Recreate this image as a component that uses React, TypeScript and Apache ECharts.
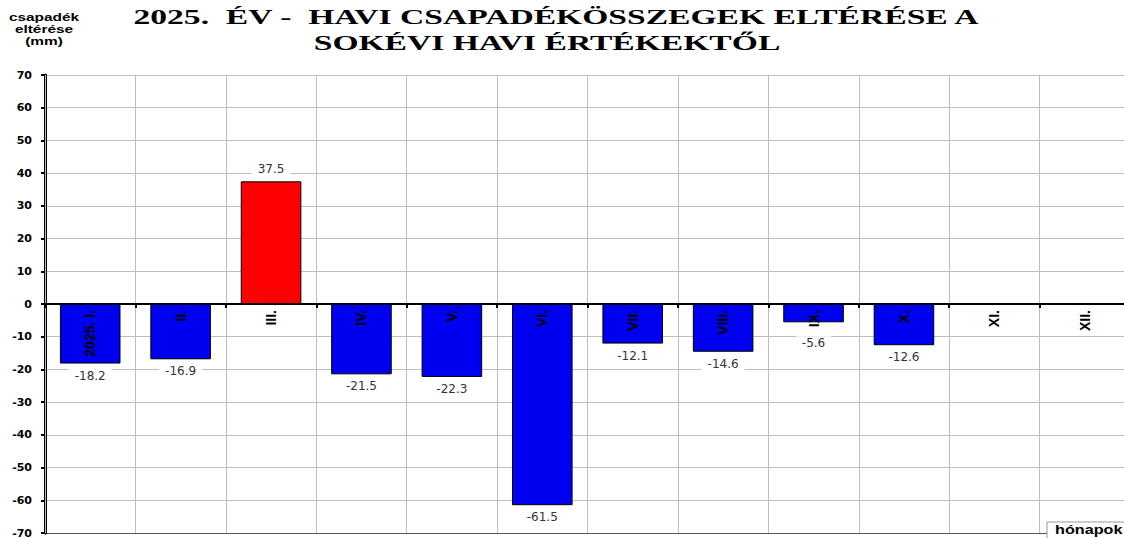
import React, { useEffect, useRef } from "react";
import * as echarts from "echarts";

const categories = ["2025. I.", "II.", "III.", "IV.", "V.", "VI.", "VII.", "VIII.", "IX.", "X.", "XI.", "XII."];
const deviations: (number | null)[] = [-18.2, -16.9, 37.5, -21.5, -22.3, -61.5, -12.1, -14.6, -5.6, -12.6, null, null];
const yMin = -70;
const yMax = 70;
const yStep = 10;
const titleLine1 = "2025.  ÉV -  HAVI CSAPADÉKÖSSZEGEK ELTÉRÉSE A";
const titleLine2 = "SOKÉVI HAVI ÉRTÉKEKTŐL";
const yAxisTitle = "csapadék\neltérése\n(mm)";
const xAxisTitle = "hónapok";

const GRID_TOP = 75;
const GRID_HEIGHT = 458;

export default function App() {
  const ref = useRef<HTMLDivElement>(null);
  useEffect(() => {
    if (!ref.current) return;
    const chart = echarts.init(ref.current, undefined, { renderer: "svg" });
    const nLines = (yMax - yMin) / yStep + 1;
    const splitColors = Array.from({ length: nLines }, (_, i) => (i === 0 ? "#555555" : "#bdbdbd"));
    const zeroOffset = -GRID_HEIGHT * (0 - yMin) / (yMax - yMin);
    const titleFont = "bold 21px 'Liberation Serif', 'Times New Roman', serif";
    chart.setOption({
      animation: false,
      backgroundColor: "#ffffff",
      grid: { left: 45, top: GRID_TOP, width: 1085, height: GRID_HEIGHT, containLabel: false, outerBoundsMode: "none" },
      graphic: [
        {
          type: "text",
          x: 556,
          y: 6,
          scaleX: 1.6,
          style: { text: titleLine1, font: titleFont, fill: "#000", align: "center", verticalAlign: "top" },
        },
        {
          type: "text",
          x: 547,
          y: 32,
          scaleX: 1.6,
          style: { text: titleLine2, font: titleFont, fill: "#000", align: "center", verticalAlign: "top" },
        },
        {
          type: "text",
          x: 44,
          y: 11,
          scaleX: 1.4,
          style: {
            text: yAxisTitle,
            font: "bold 11px 'Liberation Sans', Arial, sans-serif",
            fill: "#000",
            align: "center",
            lineHeight: 12,
          },
        },
        {
          type: "rect",
          shape: { x: 1047, y: 522, width: 90, height: 20 },
          style: { fill: "#fff", stroke: "#999", lineWidth: 1 },
          z: 10,
        },
        {
          type: "text",
          x: 1055,
          y: 530,
          scaleX: 1.35,
          z: 11,
          style: {
            text: xAxisTitle,
            font: "bold 12px 'Liberation Sans', Arial, sans-serif",
            fill: "#000",
            verticalAlign: "middle",
          },
        },
      ],
      xAxis: {
        type: "category",
        data: categories,
        position: "bottom",
        offset: zeroOffset,
        axisLine: { onZero: false, lineStyle: { color: "#000", width: 2 } },
        axisTick: { show: true, length: 4, lineStyle: { color: "#000", width: 2 } },
        splitLine: { show: true, lineStyle: { color: "#bdbdbd", width: 1 } },
        axisLabel: {
          rotate: 90,
          margin: 6,
          color: "#000",
          fontSize: 14,
          fontWeight: "bold",
          fontFamily: "'Liberation Sans', Arial, sans-serif",
        },
        z: 3,
      },
      yAxis: {
        type: "value",
        min: yMin,
        max: yMax,
        interval: yStep,
        axisLine: { show: true, lineStyle: { color: "#000", width: 3 } },
        axisTick: { show: true, length: 4, lineStyle: { color: "#000", width: 2 } },
        splitLine: { show: true, lineStyle: { color: splitColors, width: 1 } },
        axisLabel: {
          margin: 13,
          color: "#000",
          fontSize: 11,
          fontWeight: "bold",
          fontFamily: "'DejaVu Sans', sans-serif",
        },
      },
      series: [
        {
          type: "bar",
          data: deviations.map((v) =>
            v === null
              ? null
              : {
                  value: v,
                  itemStyle: { color: v >= 0 ? "#ff0000" : "#0000f0" },
                  label: { position: v >= 0 ? "top" : "bottom", distance: v < 0 && v > -10 ? 14 : 5 },
                }
          ),
          barWidth: "67%",
          itemStyle: { borderColor: "#000", borderWidth: 1 },
          label: {
            show: true,
            color: "#333",
            fontSize: 12,
            fontFamily: "'DejaVu Sans', sans-serif",
            backgroundColor: "#fff",
            padding: [1, 6, 1, 6],
            distance: 5,
            formatter: (p: any) => (p.value as number).toFixed(1),
          },
          z: 2,
        },
      ],
    });
    return () => chart.dispose();
  }, []);
  return (
    <div
      ref={ref}
      style={{ position: "absolute", left: 0, top: 0, width: 1124, height: 538 }}
    />
  );
}
